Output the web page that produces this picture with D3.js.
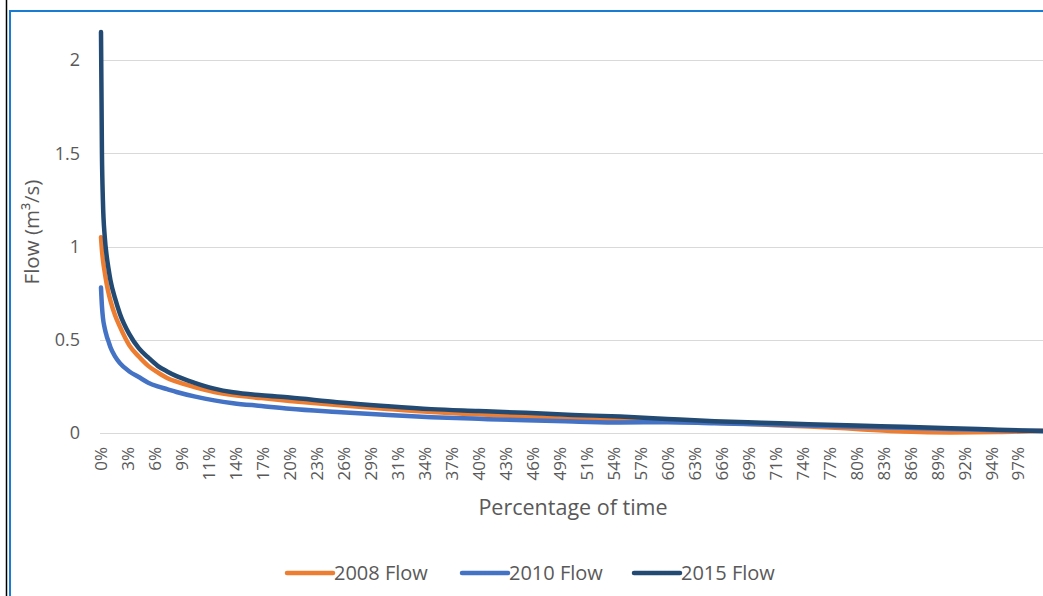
<!DOCTYPE html>
<html>
<head>
<meta charset="utf-8">
<script src="https://cdn.jsdelivr.net/npm/d3@7"></script>
<style>
  html, body { margin: 0; padding: 0; background: #fff; }
  svg { display: block; font-family: "Open Sans", sans-serif; }
</style>
</head>
<body>
<svg id="chart" width="1043" height="596"></svg>
<script>
// ---- data ----
const pct = [0, 0.1, 0.2, 0.4, 0.6, 0.8, 1, 1.5, 2, 3, 4, 5, 6, 7, 8, 10, 12, 14, 17, 20, 25, 30, 35, 40, 45, 50, 55, 60, 65, 70, 75, 80, 85, 90, 95, 100];
const flow2008 = [1.05, 0.98, 0.93, 0.86, 0.80, 0.75, 0.71, 0.63, 0.57, 0.47, 0.41, 0.36, 0.325, 0.295, 0.275, 0.245, 0.22, 0.203, 0.187, 0.172, 0.15, 0.13, 0.112, 0.10, 0.088, 0.076, 0.07, 0.064, 0.055, 0.045, 0.035, 0.022, 0.008, 0.003, 0.005, 0.012];
const flow2010 = [0.78, 0.68, 0.62, 0.56, 0.52, 0.49, 0.46, 0.41, 0.375, 0.33, 0.30, 0.27, 0.25, 0.235, 0.22, 0.195, 0.175, 0.16, 0.145, 0.13, 0.113, 0.098, 0.085, 0.076, 0.068, 0.062, 0.056, 0.058, 0.052, 0.047, 0.04, 0.034, 0.028, 0.022, 0.015, 0.01];
const flow2015 = [2.15, 1.5, 1.25, 1.05, 0.95, 0.88, 0.82, 0.72, 0.64, 0.53, 0.455, 0.405, 0.36, 0.33, 0.305, 0.268, 0.238, 0.218, 0.202, 0.19, 0.165, 0.145, 0.128, 0.118, 0.108, 0.097, 0.088, 0.075, 0.063, 0.055, 0.047, 0.04, 0.033, 0.026, 0.018, 0.01];
const seriesNames = ["2008 Flow", "2010 Flow", "2015 Flow"];
const seriesColors = ["#ED7D31", "#4472C4", "#234a72"];
const xTickLabels = ["0%","3%","6%","9%","11%","14%","17%","20%","23%","26%","29%","31%","34%","37%","40%","43%","46%","49%","51%","54%","57%","60%","63%","66%","69%","71%","74%","77%","80%","83%","86%","89%","92%","94%","97%"];
const yTicks = [0, 0.5, 1, 1.5, 2];

// ---- chart ----
const svg = d3.select("#chart");
const x = d3.scaleLinear().domain([0, 100]).range([101, 1045]);
const y = d3.scaleLinear().domain([0, 2]).range([433, 60]);

// frame borders (screenshot edges)
svg.append("line").attr("x1", 6.5).attr("x2", 6.5).attr("y1", 0).attr("y2", 596).attr("stroke", "#000").attr("stroke-width", 1.5);
svg.append("line").attr("x1", 10).attr("x2", 10).attr("y1", 10).attr("y2", 596).attr("stroke", "#1a7bd3").attr("stroke-width", 2);
svg.append("line").attr("x1", 9).attr("x2", 1043).attr("y1", 11).attr("y2", 11).attr("stroke", "#1a7bd3").attr("stroke-width", 2);

// gridlines
svg.append("g").selectAll("line").data(yTicks).join("line")
  .attr("x1", 100).attr("x2", 1043)
  .attr("y1", d => Math.round(y(d)) + 0.5).attr("y2", d => Math.round(y(d)) + 0.5)
  .attr("stroke", "#d9d9d9").attr("stroke-width", 1);

// y axis labels
const yAxis = d3.axisLeft(y).tickValues(yTicks).tickSize(0).tickPadding(0).tickFormat(d3.format("~g"));
const gy = svg.append("g").attr("transform", "translate(80,0)").call(yAxis);
gy.select(".domain").remove();
gy.selectAll("text").attr("fill", "#595959").style("font-size", "18px").style("font-family", "Open Sans");

// x axis labels
const xTickVals = xTickLabels.map((_, i) => i * 100 / 35);
const xAxis = d3.axisBottom(x).tickValues(xTickVals).tickSize(0).tickFormat((d, i) => xTickLabels[i]);
const gx = svg.append("g").attr("transform", "translate(0,433)").call(xAxis);
gx.select(".domain").remove();
gx.selectAll("text")
  .attr("fill", "#595959").style("font-size", "17px").style("font-family", "Open Sans")
  .attr("text-anchor", "end").attr("dy", "0.35em").attr("y", 0)
  .attr("transform", "translate(0,14) rotate(-90)").attr("x", 0);

// series lines
const series = [flow2008, flow2010, flow2015];
const line = d3.line().x((d, i) => x(pct[i])).y(d => y(d)).curve(d3.curveMonotoneX);
svg.append("g").selectAll("path").data(series).join("path")
  .attr("d", d => line(d))
  .attr("fill", "none")
  .attr("stroke", (d, i) => seriesColors[i])
  .attr("stroke-width", 4.5)
  .attr("stroke-linejoin", "round").attr("stroke-linecap", "round");

// axis titles
svg.append("text").attr("x", 573).attr("y", 515).attr("text-anchor", "middle")
  .attr("fill", "#595959").style("font-size", "21.5px").text("Percentage of time");
svg.append("text").attr("transform", "translate(39,232) rotate(-90)").attr("text-anchor", "middle")
  .attr("fill", "#595959").style("font-size", "20.5px").text("Flow (m³/s)");

// legend
const legendX = [287, 462, 634];
const lg = svg.append("g").selectAll("g").data(seriesNames).join("g")
  .attr("transform", (d, i) => `translate(${legendX[i]},573)`);
lg.append("line").attr("x1", 0).attr("x2", 46).attr("y1", 0).attr("y2", 0)
  .attr("stroke", (d, i) => seriesColors[i]).attr("stroke-width", 4.5).attr("stroke-linecap", "round");
lg.append("text").attr("x", 47).attr("y", 0).attr("dy", "0.35em")
  .attr("fill", "#595959").style("font-size", "20px").text(d => d);
</script>
</body>
</html>
